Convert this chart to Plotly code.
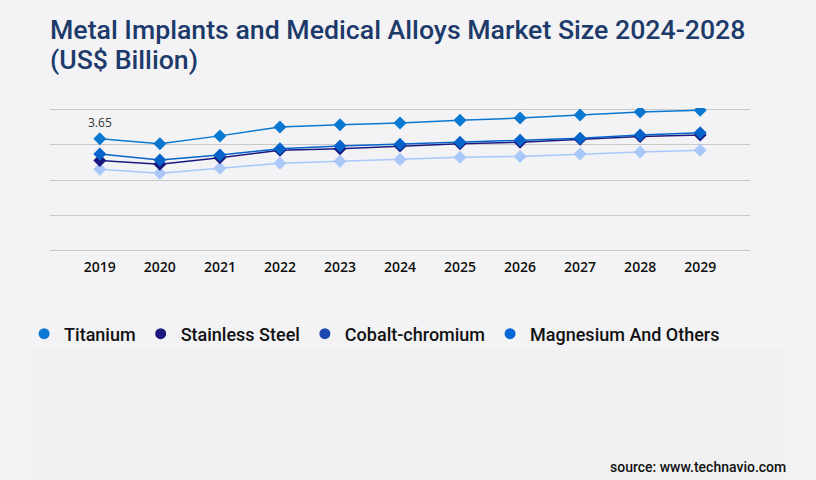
import plotly.graph_objects as go

# Dados (US$ bilhões)
years = [2019, 2020, 2021, 2022, 2023, 2024, 2025, 2026, 2027, 2028, 2029]
titanium = [3.65, 3.48, 3.74, 4.03, 4.10, 4.16, 4.25, 4.32, 4.42, 4.52, 4.58]
stainless_steel = [2.94, 2.81, 3.03, 3.27, 3.32, 3.41, 3.48, 3.53, 3.63, 3.72, 3.77]
cobalt_chromium = [3.15, 2.95, 3.12, 3.32, 3.41, 3.47, 3.53, 3.60, 3.66, 3.77, 3.84]
magnesium_others = [2.65, 2.52, 2.68, 2.85, 2.91, 2.97, 3.04, 3.07, 3.15, 3.21, 3.27]

series_names = ['Titanium', 'Stainless Steel', 'Cobalt-chromium', 'Magnesium And Others']
series_values = [titanium, stainless_steel, cobalt_chromium, magnesium_others]
line_colors = ['#0a78d0', '#1b197e', '#0563c9', '#a9c8f8']
legend_colors = ['#0a78d4', '#1b197e', '#1a47b0', '#0566d8']

BG = '#f3f3f5'
GRID = '#c9c9cc'

fig = go.Figure()

# linhas (ordem de desenho: a clara por baixo)
for idx in [3, 1, 2, 0]:
    fig.add_trace(go.Scatter(
        x=years, y=series_values[idx], mode='lines+markers',
        line=dict(color=line_colors[idx], width=1.5),
        marker=dict(symbol='diamond', size=10, color=line_colors[idx]),
        showlegend=False, hoverinfo='x+y', name=series_names[idx],
    ))

# entradas da legenda (só marcador redondo)
for name, color in zip(series_names, legend_colors):
    fig.add_trace(go.Scatter(
        x=[None], y=[None], mode='markers', name=name,
        marker=dict(symbol='circle', size=11, color=color),
    ))

# rótulo do primeiro valor
fig.add_annotation(
    x=years[0], y=titanium[0], text=f'{titanium[0]:.2f}',
    showarrow=False, yshift=16, font=dict(family='Open Sans', size=12, color='#333333'),
)

title_font = dict(family='Roboto', size=26.7, color='#1c3a6a', weight=500)

# segunda linha do título (espaçamento mais apertado que o <br> do plotly)
fig.add_annotation(
    text='(US$ Billion)', xref='paper', yref='paper',
    x=-0.003, y=1.336, xanchor='left', yanchor='middle', showarrow=False,
    font=title_font,
)

fig.add_annotation(
    text='source: www.technavio.com', xref='paper', yref='paper',
    x=1.054, y=-1.490, xanchor='right', yanchor='middle', showarrow=False,
    font=dict(family='Roboto', size=14, color='#111111', weight=500),
)

# painel claro inferior
fig.add_shape(
    type='rect', xref='paper', yref='paper', layer='below',
    x0=-0.0286, x1=1.057, y0=-0.666, y1=-1.75,
    fillcolor='#f1f1f1', line=dict(width=0),
)

fig.update_layout(
    width=816, height=480,
    margin=dict(l=50, r=66, t=108.23, b=228.48),
    paper_bgcolor=BG, plot_bgcolor=BG,
    title=dict(
        text='Metal Implants and Medical Alloys Market Size 2024-2028',
        x=50 / 816, xanchor='left', y=0.957, yanchor='top',
        font=title_font,
    ),
    legend=dict(
        orientation='h', x=-0.037, xanchor='left', y=-0.569, yanchor='middle',
        font=dict(family='Roboto', size=18, color='#111111', weight=500),
        itemwidth=30, bgcolor='rgba(0,0,0,0)',
    ),
    xaxis=dict(
        range=[2018.17, 2029.83], tickmode='array', tickvals=years,
        ticktext=[str(y) for y in years], showgrid=False, zeroline=False,
        showline=False, ticks='', ticklabelstandoff=5,
        tickfont=dict(family='Open Sans', size=14, color='#111111', weight=600),
    ),
    yaxis=dict(
        range=[-0.05, 4.65], tick0=0, dtick=1.148, showgrid=True, gridcolor=GRID,
        gridwidth=1, zeroline=False, showticklabels=False, showline=False,
    ),
)

fig.write_html('out.html', config={'displayModeBar': False},
               post_script="document.body.style.margin='0';")
